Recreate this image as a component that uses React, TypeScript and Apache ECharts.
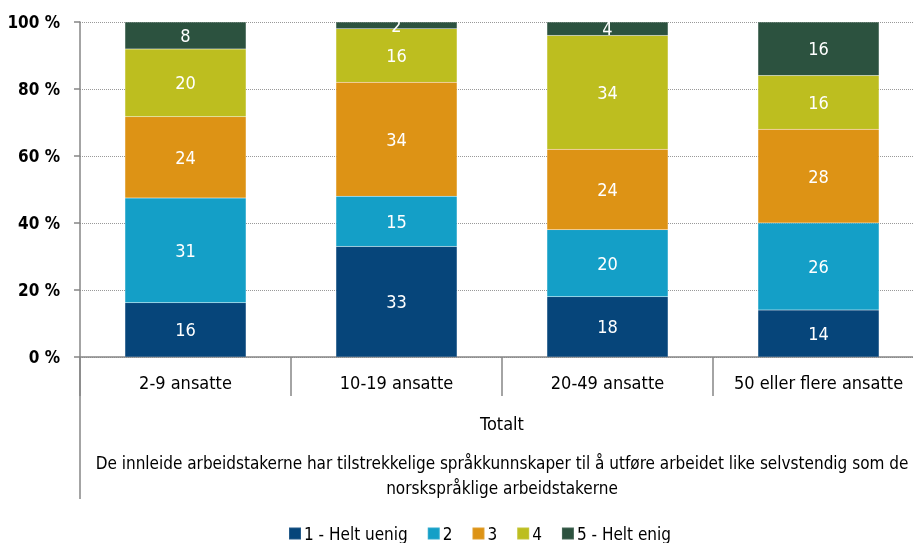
import React, { useEffect, useRef } from "react";
import * as echarts from "echarts";

const categories = ["2-9 ansatte", "10-19 ansatte", "20-49 ansatte", "50 eller flere ansatte"];
const seriesNames = ["1 - Helt uenig", "2", "3", "4", "5 - Helt enig"];
const heltUenig = [16, 33, 18, 14];
const svar2 = [31, 15, 20, 26];
const svar3 = [24, 34, 24, 28];
const svar4 = [20, 16, 34, 16];
const heltEnig = [8, 2, 4, 16];
const colors = ["#06457a", "#149fc7", "#dd9315", "#bdbe1f", "#2c523f"];
const yTicks = [0, 20, 40, 60, 80, 100];
const groupLabel = "Totalt";
const questionText =
  "De innleide arbeidstakerne har tilstrekkelige språkkunnskaper til å utføre arbeidet like selvstendig som de\nnorskspråklige arbeidstakerne";

const FONT = '"Liberation Sans Narrow", "DejaVu Sans Condensed", sans-serif';

export default function App() {
  const ref = useRef<HTMLDivElement>(null);
  useEffect(() => {
    if (!ref.current) return;
    const chart = echarts.init(ref.current, null, { renderer: "svg" });
    const all = [heltUenig, svar2, svar3, svar4, heltEnig];
    const totals = categories.map((_, i) => all.reduce((s, arr) => s + arr[i], 0));
    const series = all.map((arr, k) => ({
      name: seriesNames[k],
      type: "bar",
      stack: "total",
      barCategoryGap: "42.6%",
      itemStyle: { color: colors[k], borderColor: "rgba(255,255,255,0.12)", borderWidth: 0.5 },
      data: arr.map((v, i) => ({ value: (v / totals[i]) * 100, raw: v })),
      label: {
        show: true,
        position: "inside",
        color: "#ffffff",
        fontFamily: FONT,
        fontSize: 18,
        formatter: (p: any) => String(p.data.raw),
      },
    }));
    chart.setOption({
      animation: false,
      color: colors,
      textStyle: { fontFamily: FONT },
      grid: { left: 80, top: 22, right: 11, bottom: 186, containLabel: false },
      legend: {
        left: 288,
        top: 525,
        padding: 0,
        itemWidth: 12,
        itemHeight: 12,
        itemGap: 19,
        icon: "rect",
        data: seriesNames,
        textStyle: { fontFamily: FONT, fontSize: 17, color: "#000", padding: [0, 0, 0, -2] },
      },
      xAxis: {
        type: "category",
        data: categories,
        axisLine: { lineStyle: { color: "#868686", width: 1.5 } },
        axisTick: { show: true, length: 39, alignWithLabel: false, lineStyle: { color: "#868686", width: 1.5 } },
        axisLabel: { color: "#000", fontFamily: FONT, fontSize: 18, margin: 16, interval: 0 },
      },
      yAxis: {
        type: "value",
        min: yTicks[0],
        max: yTicks[yTicks.length - 1],
        interval: yTicks[1] - yTicks[0],
        axisLine: { show: true, lineStyle: { color: "#868686", width: 1.5 } },
        axisTick: { show: true, length: 6, lineStyle: { color: "#868686", width: 1.5 } },
        axisLabel: { color: "#000", fontFamily: FONT, fontSize: 17, fontWeight: "bold", margin: 20, formatter: "{value} %" },
        splitLine: { show: true, lineStyle: { color: "#999", type: "dotted", width: 1 } },
      },
      graphic: [
        { type: "line", shape: { x1: 80, y1: 357, x2: 80, y2: 499 }, style: { stroke: "#868686", lineWidth: 1.5 } },
        {
          type: "text",
          x: 502,
          y: 423,
          style: { text: groupLabel, fill: "#000", font: `18px ${FONT}`, textAlign: "center", textVerticalAlign: "middle" },
        },
        {
          type: "text",
          x: 502,
          y: 475,
          style: {
            text: questionText,
            fill: "#000",
            font: `17px ${FONT}`,
            lineHeight: 25,
            textAlign: "center",
            textVerticalAlign: "middle",
          },
        },
      ],
      series,
    });
    return () => chart.dispose();
  }, []);
  return (
    <div style={{ position: "fixed", left: 0, top: 0, width: 913, height: 543, overflow: "hidden" }}>
      <div ref={ref} style={{ width: 935, height: 543 }} />
    </div>
  );
}
